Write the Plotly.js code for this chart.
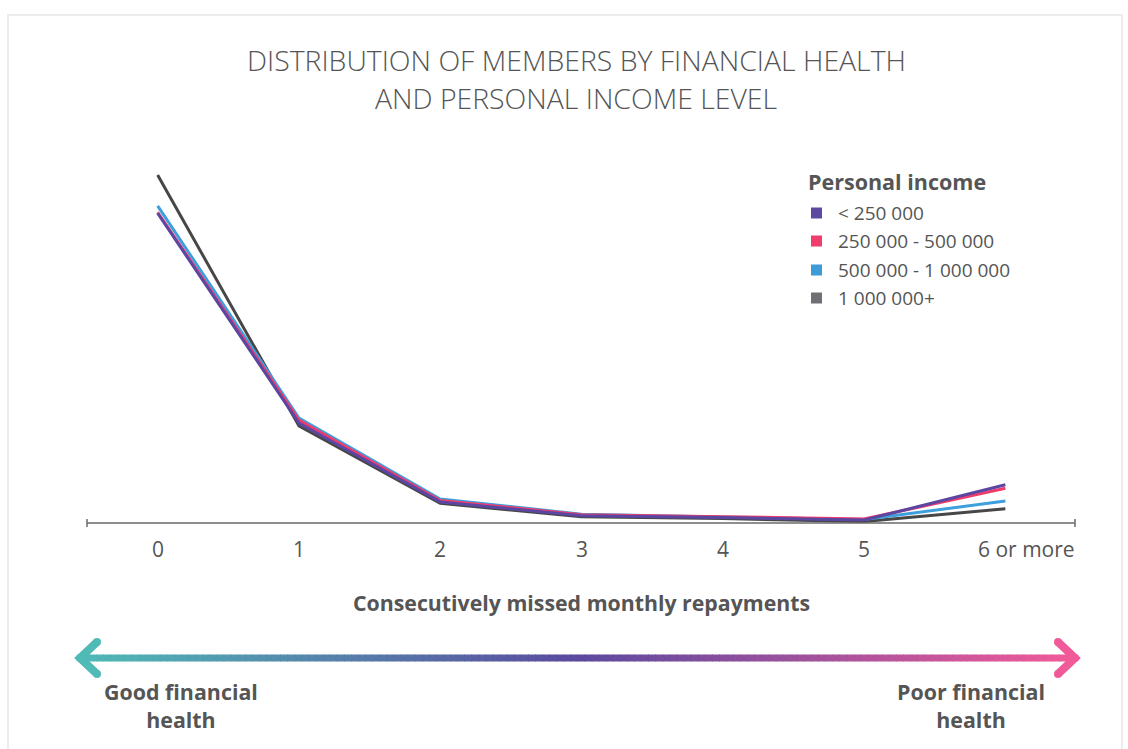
<!DOCTYPE html>
<html>
<head>
<meta charset="utf-8">
<script src="https://cdn.plot.ly/plotly-3.0.1.min.js"></script>
<style>
  html, body { margin: 0; padding: 0; background: #ffffff; }
  #chart { width: 1128px; height: 749px; }
</style>
</head>
<body>
<div id="chart"></div>
<script>
// ---- Data ----
const categories = ['0', '1', '2', '3', '4', '5', '6 or more'];
const seriesNames = ['< 250 000', '250 000 - 500 000', '500 000 - 1 000 000', '1 000 000+'];
const incomeUnder250k = [63.2, 20.4, 4.3, 1.5, 1.1, 0.6, 7.8];
const income250kTo500k = [63.4, 21.0, 4.6, 1.7, 1.3, 0.8, 7.1];
const income500kTo1m = [64.7, 21.4, 4.9, 1.8, 1.2, 0.7, 4.5];
const income1mPlus = [71.0, 19.8, 4.0, 1.3, 0.9, 0.3, 2.9];
const titleLines = ['DISTRIBUTION OF MEMBERS BY FINANCIAL HEALTH', 'AND PERSONAL INCOME LEVEL'];
const legendTitle = 'Personal income';
const xAxisTitle = 'Consecutively missed monthly repayments';
const leftLabel = 'Good financial<br>health';
const rightLabel = 'Poor financial<br>health';

// ---- Styles ----
const lineColors = ['#5b46a1', '#f03c6d', '#3d9fdc', '#474747'];
const legendColors = ['#5c4a9e', '#ef3e6c', '#3d9bd8', '#6f7073'];
const textColor = '#555555';
const FONT = 'Open Sans, Noto Sans, sans-serif';

const W = 1128, H = 749;
const L = 87, R = 1076, T = 150, B = 523;
function px(x) { return (x - L) / (R - L); }
function py(y) { return (B - y) / (B - T); }

const seriesValues = [incomeUnder250k, income250kTo500k, income500kTo1m, income1mPlus];
const drawOrder = [3, 2, 1, 0];
const traces = drawOrder.map(i => ({
  type: 'scatter',
  mode: 'lines',
  x: categories,
  y: seriesValues[i],
  name: seriesNames[i],
  line: { color: lineColors[i], width: 3 },
  showlegend: false,
  hoverinfo: 'x+y+name'
}));

const shapes = [];
// card frame
shapes.push({ type: 'rect', xref: 'paper', yref: 'paper', x0: px(8), x1: px(1122), y0: py(15), y1: py(770),
  line: { color: '#ececec', width: 2 }, fillcolor: 'rgba(0,0,0,0)', layer: 'below' });
// axis line + end ticks
shapes.push({ type: 'line', xref: 'paper', yref: 'paper', x0: px(87), x1: px(1075), y0: py(523), y1: py(523),
  line: { color: '#6a6a6a', width: 1.5 } });
[87, 1075].forEach(x => shapes.push({ type: 'line', xref: 'paper', yref: 'paper', x0: px(x), x1: px(x), y0: py(519), y1: py(527),
  line: { color: '#6a6a6a', width: 1.5 } }));

// gradient arrow shaft
function hex2rgb(h) { return [parseInt(h.slice(1,3),16), parseInt(h.slice(3,5),16), parseInt(h.slice(5,7),16)]; }
const stops = [[0, '#4fbab6'], [0.5, '#5b4a9f'], [1, '#f15a99']];
function colorAt(t) {
  for (let k = 0; k < stops.length - 1; k++) {
    const [t0, c0] = stops[k], [t1, c1] = stops[k+1];
    if (t <= t1) {
      const f = (t - t0) / (t1 - t0);
      const a = hex2rgb(c0), b = hex2rgb(c1);
      const c = a.map((v, j) => Math.round(v + (b[j] - v) * f));
      return `rgb(${c[0]},${c[1]},${c[2]})`;
    }
  }
  return stops[stops.length-1][1];
}
const ax0 = 82, ax1 = 1073, ay = 658, N = 140;
for (let k = 0; k < N; k++) {
  const xa = ax0 + (ax1 - ax0) * k / N;
  const xb = ax0 + (ax1 - ax0) * (k + 1) / N + 0.8;
  shapes.push({ type: 'line', xref: 'paper', yref: 'paper', x0: px(xa), x1: px(xb), y0: py(ay), y1: py(ay),
    line: { color: colorAt((k + 0.5) / N), width: 7 } });
}
// arrow heads
function chevron(tipX, armX, color) {
  return { type: 'path', xref: 'paper', yref: 'paper',
    path: `M ${px(armX)},${py(ay - 16)} L ${px(tipX)},${py(ay)} L ${px(armX)},${py(ay + 16)}`,
    line: { color: color, width: 8 }, fillcolor: 'rgba(0,0,0,0)' };
}
shapes.push(chevron(80, 97, '#4fbab6'));
shapes.push(chevron(1075, 1058, '#f15a99'));
[[97, ay - 16, '#4fbab6'], [97, ay + 16, '#4fbab6'], [1058, ay - 16, '#f15a99'], [1058, ay + 16, '#f15a99'],
 [80, ay, '#4fbab6'], [1075, ay, '#f15a99']].forEach(([cx, cy, c]) => {
  shapes.push({ type: 'circle', xref: 'paper', yref: 'paper', x0: px(cx - 4), x1: px(cx + 4), y0: py(cy + 4), y1: py(cy - 4),
    line: { width: 0 }, fillcolor: c });
});

// legend squares
const legY = [213, 241, 270, 298];
seriesNames.forEach((n, i) => {
  shapes.push({ type: 'rect', xref: 'paper', yref: 'paper', x0: px(811), x1: px(822), y0: py(legY[i] + 5.5), y1: py(legY[i] - 5.5),
    line: { width: 0 }, fillcolor: legendColors[i] });
});

const annotations = [];
annotations.push({ xref: 'paper', yref: 'paper', x: px(576), y: py(60), text: titleLines[0], showarrow: false,
  xanchor: 'center', yanchor: 'middle', font: { family: FONT, size: 28.4, color: textColor, weight: 300 } });
annotations.push({ xref: 'paper', yref: 'paper', x: px(576), y: py(98), text: titleLines[1], showarrow: false,
  xanchor: 'center', yanchor: 'middle', font: { family: FONT, size: 28.4, color: textColor, weight: 300 } });
annotations.push({ xref: 'paper', yref: 'paper', x: px(806), y: py(181), text: legendTitle, showarrow: false,
  xanchor: 'left', yanchor: 'middle', font: { family: FONT, size: 21.5, color: textColor, weight: 700 } });
seriesNames.forEach((n, i) => {
  annotations.push({ xref: 'paper', yref: 'paper', x: px(836), y: py(legY[i]), text: n, showarrow: false,
    xanchor: 'left', yanchor: 'middle', font: { family: FONT, size: 19, color: textColor } });
});
// category tick labels (last one kept inside the axis end)
categories.forEach((c, i) => {
  const last = i === categories.length - 1;
  annotations.push({ xref: last ? 'paper' : 'x', yref: 'paper', x: last ? px(1077) : c, y: py(549), text: c, showarrow: false,
    xanchor: last ? 'right' : 'center', yanchor: 'middle', font: { family: FONT, size: 21, color: textColor, weight: 400 } });
});
annotations.push({ xref: 'paper', yref: 'paper', x: px(581), y: py(602), text: xAxisTitle, showarrow: false,
  xanchor: 'center', yanchor: 'middle', font: { family: FONT, size: 21.3, color: textColor, weight: 700 } });
annotations.push({ xref: 'paper', yref: 'paper', x: px(181), y: py(705), text: leftLabel, showarrow: false,
  xanchor: 'center', yanchor: 'middle', align: 'center', font: { family: FONT, size: 21.4, color: textColor, weight: 700 } });
annotations.push({ xref: 'paper', yref: 'paper', x: px(971), y: py(705), text: rightLabel, showarrow: false,
  xanchor: 'center', yanchor: 'middle', align: 'center', font: { family: FONT, size: 21.4, color: textColor, weight: 700 } });

const layout = {
  width: W, height: H,
  margin: { l: L, r: W - R, t: T, b: H - B, pad: 0 },
  paper_bgcolor: '#ffffff', plot_bgcolor: '#ffffff',
  showlegend: false,
  font: { family: FONT, color: textColor },
  xaxis: {
    type: 'category', range: [-0.5, 6.5], showgrid: false, zeroline: false, showline: false,
    ticks: '', showticklabels: false, fixedrange: true
  },
  yaxis: {
    range: [0, 76.1], showgrid: false, zeroline: false, showline: false, showticklabels: false, ticks: '', fixedrange: true
  },
  shapes: shapes,
  annotations: annotations
};

Plotly.newPlot('chart', traces, layout, { displayModeBar: false, staticPlot: true });
</script>
</body>
</html>
